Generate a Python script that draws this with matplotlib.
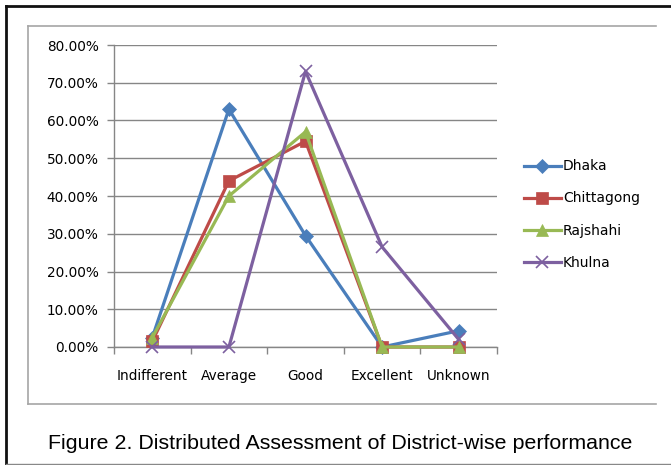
import matplotlib
matplotlib.use("Agg")
import matplotlib.pyplot as plt
from matplotlib.lines import Line2D
from matplotlib.ticker import FixedLocator, PercentFormatter
import numpy as np

categories = ["Indifferent", "Average", "Good", "Excellent", "Unknown"]
dhaka = [2.5, 63.0, 29.5, 0.0, 4.3]
chittagong = [1.5, 44.0, 54.5, 0.0, 0.0]
rajshahi = [2.5, 40.0, 57.0, 0.0, 0.0]
khulna = [0.0, 0.0, 73.0, 26.5, 2.0]
y_ticks = [0, 10, 20, 30, 40, 50, 60, 70, 80]

W, H = 671, 465
fig = plt.figure(figsize=(W / 100, H / 100), dpi=100)
ax = fig.add_axes([114 / W, 1 - 347 / H, (497 - 114) / W, (347 - 45) / H])

x = np.arange(len(categories))
series = [
    ("Dhaka", dhaka, "#4A7EBB", "D", 7),
    ("Chittagong", chittagong, "#BE4B48", "s", 8),
    ("Rajshahi", rajshahi, "#98B954", "^", 8),
    ("Khulna", khulna, "#7D60A0", "x", 9),
]
for name, vals, col, mk, ms in series:
    ax.plot(x, vals, color=col, lw=2.3, marker=mk, ms=ms, mew=1.2 if mk == "x" else 0.5,
            mec=col, mfc=col, label=name, clip_on=False, zorder=3)

ax.set_xlim(-0.5, len(categories) - 0.5)
ax.set_ylim(0, 80)
ax.set_yticks(y_ticks)
ax.yaxis.set_major_formatter(PercentFormatter(decimals=2))
ax.yaxis.grid(True, color="#868686", lw=1.0)
ax.set_axisbelow(True)

ax.set_xticks(x)
ax.set_xticklabels(categories)
ax.xaxis.set_minor_locator(FixedLocator(np.arange(-0.5, len(categories), 1.0)))
ax.tick_params(axis="x", which="major", length=0, pad=16)
ax.tick_params(axis="x", which="minor", length=5, color="#868686", width=1.0)
ax.tick_params(axis="y", length=5, color="#868686", width=1.0, pad=6)
for lbl in ax.get_xticklabels() + ax.get_yticklabels():
    lbl.set_fontfamily("DejaVu Sans")
    lbl.set_fontsize(9.8)
    lbl.set_color("#000000")

for s in ["top", "right"]:
    ax.spines[s].set_visible(False)
for s in ["left", "bottom"]:
    ax.spines[s].set_color("#868686")
    ax.spines[s].set_linewidth(1.0)

leg = ax.legend(loc="center left", bbox_to_anchor=(517 / W, 1 - 214.5 / H),
                bbox_transform=fig.transFigure, frameon=False, borderpad=0,
                prop={"family": "DejaVu Sans", "size": 10},
                handlelength=2.66, handletextpad=0.15, labelspacing=1.3)

# chart area border and outer frame
def fline(x0, y0, x1, y1, **kw):
    fig.add_artist(Line2D([x0 / W, x1 / W], [1 - y0 / H, 1 - y1 / H], **kw))

fline(28, 26, 656, 26, color="#a6a6a6", lw=1.2)
fline(28, 26, 28, 404, color="#a6a6a6", lw=1.2)
fline(28, 404, 656, 404, color="#a6a6a6", lw=1.2)
fline(6, 6, 671, 6, color="#111111", lw=2.0)
fline(6, 6, 6, 464, color="#111111", lw=2.0)
fline(6, 464, 671, 464, color="#888888", lw=1.0)

fig.text(48 / W, 1 - 443 / H, "Figure 2. Distributed Assessment of District-wise performance",
         family="Liberation Sans", fontsize=15.4, va="center", ha="left")

fig.savefig("out.png", dpi=100)
